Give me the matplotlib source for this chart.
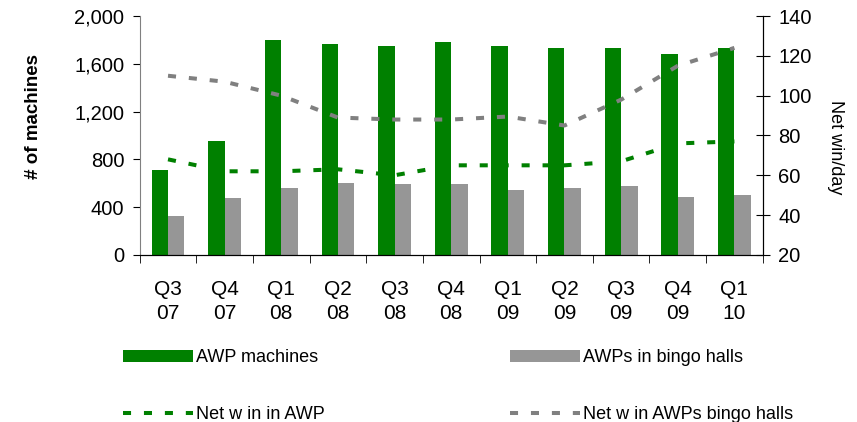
import matplotlib.pyplot as plt
import numpy as np
from matplotlib.ticker import FuncFormatter

plt.rcParams['font.family'] = ['Liberation Sans', 'DejaVu Sans']

quarters = ['Q3\n07', 'Q4\n07', 'Q1\n08', 'Q2\n08', 'Q3\n08', 'Q4\n08',
            'Q1\n09', 'Q2\n09', 'Q3\n09', 'Q4\n09', 'Q1\n10']
awp_machines = [710, 955, 1800, 1765, 1750, 1780, 1750, 1732, 1732, 1682, 1732]
awp_bingo = [325, 477, 561, 602, 594, 594, 544, 561, 577, 485, 502]
net_win_awp = [68, 62, 62, 63, 60, 65, 65, 65, 67, 76, 77]
net_win_bingo = [110, 107, 100, 89, 88, 88, 89.5, 85, 98, 115, 124]

GREEN = '#008000'
GRAY_BAR = '#969696'
GRAY_LINE = '#808080'

fig = plt.figure(figsize=(8.57, 4.22), dpi=100)
ax = fig.add_axes([0.163, 0.396, 0.727, 0.566])
ax2 = ax.twinx()

x = np.arange(len(quarters))
w = 0.29
b1 = ax.bar(x - w / 2, awp_machines, w, color=GREEN, label='AWP machines')
b2 = ax.bar(x + w / 2, awp_bingo, w, color=GRAY_BAR, label='AWPs in bingo halls')

l1, = ax2.plot(x, net_win_awp, color=GREEN, lw=2.9, dashes=(2, 3.2),
               label='Net w in in AWP')
l2, = ax2.plot(x, net_win_bingo, color=GRAY_LINE, lw=2.9, dashes=(2, 3.2),
               label='Net w in AWPs bingo halls')

ax.set_xlim(-0.5, len(quarters) - 0.5)
ax.set_ylim(0, 2000)
ax.set_yticks(range(0, 2001, 400))
ax.yaxis.set_major_formatter(FuncFormatter(lambda v, p: f'{int(v):,}'))
ax2.set_ylim(20, 140)
ax2.set_yticks(range(20, 141, 20))

# category labels centred, tick marks on the boundaries
ax.set_xticks(x)
ax.set_xticklabels(quarters, fontsize=15, linespacing=1.33)
ax.set_xticks(np.arange(-0.5, len(quarters)), minor=True)
ax.tick_params(axis='x', which='major', length=0, pad=18)
ax.tick_params(axis='x', which='minor', length=6, direction='out')
ax.tick_params(axis='y', labelsize=14.5, length=5, direction='out', pad=6)
ax2.tick_params(axis='y', labelsize=14.5, length=10, direction='inout', pad=6)

for a in (ax, ax2):
    a.spines['top'].set_visible(False)
ax.spines['left'].set_color('#808080')
ax2.spines['left'].set_visible(False)

ax.set_ylabel('# of machines', fontsize=13.5, fontweight='bold')
ax.yaxis.set_label_coords(-0.157, 0.58)
ax2.set_ylabel('Net win/day', fontsize=13, rotation=-90)
ax2.yaxis.set_label_coords(1.13, 0.45)

legend_kw = dict(loc='upper left', frameon=False, fontsize=13,
                 handlelength=3.85, handleheight=0.67, handletextpad=0.22,
                 labelspacing=2.2, borderpad=0, borderaxespad=0)
fig.legend(handles=[b1, l1], bbox_to_anchor=(123 / 857, 0.172), **legend_kw)
fig.legend(handles=[b2, l2], bbox_to_anchor=(510 / 857, 0.172), **legend_kw)

fig.savefig('out.png', dpi=100)
